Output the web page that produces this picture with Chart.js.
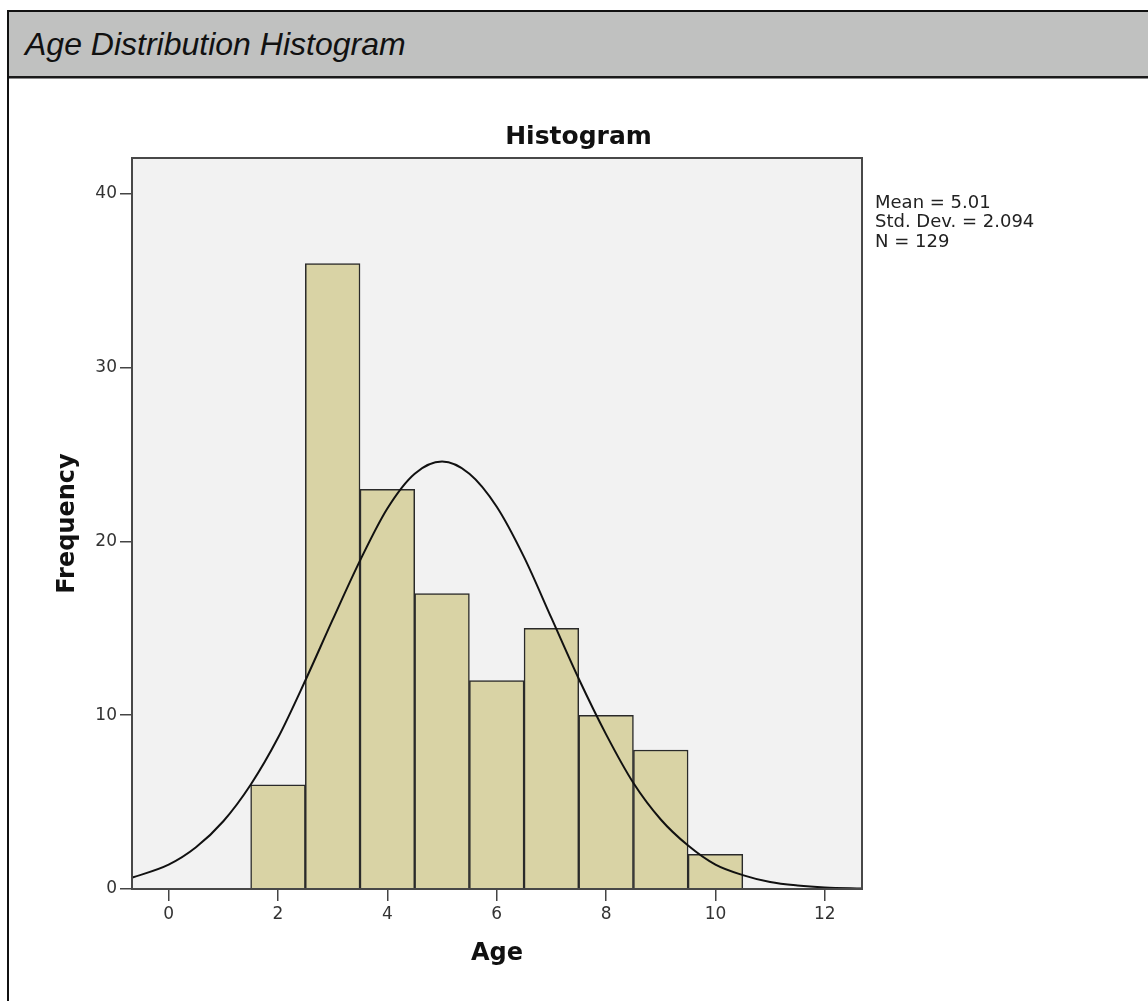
<!DOCTYPE html>
<html>
<head>
<meta charset="utf-8">
<script src="https://cdn.jsdelivr.net/npm/chart.js@4.4.1/dist/chart.umd.min.js"></script>
<style>
  body { margin: 0; background: #fff; overflow: hidden; }
  .frame {
    position: absolute; left: 7px; top: 10px; width: 1200px; height: 1100px;
    border-left: 2px solid #111; border-top: 2px solid #111;
  }
  .header {
    height: 64px; line-height: 64px; background: #c0c1c0;
    border-bottom: 2px solid #1a1a1a; box-shadow: 0 1px 0 #8a8a8a;
    font-family: "Liberation Sans", Arial, sans-serif; font-style: italic;
    font-size: 32px; color: #111; padding-left: 16px;
  }
  #chart { position: absolute; left: 9px; top: 79px; }
</style>
</head>
<body>
<div class="frame"><div class="header">Age Distribution Histogram</div></div>
<canvas id="chart" width="1139" height="922"></canvas>
<script>
// histogram bins (centre of each 1-year bin) and counts
const binCenters = [2, 3, 4, 5, 6, 7, 8, 9, 10];
const frequencies = [6, 36, 23, 17, 12, 15, 10, 8, 2];

// normal curve
const curveX = [-0.7, 0, 0.5, 1, 1.5, 2, 2.5, 3, 3.5, 4, 4.5, 5, 5.5, 6, 6.5, 7, 7.5, 8, 8.5, 9, 9.5, 10, 10.5, 11, 11.5, 12, 12.7];
const curveY = [0.62, 1.4, 2.4, 3.9, 6.0, 8.7, 12.0, 15.5, 18.9, 21.9, 23.9, 24.6, 23.9, 22.0, 19.1, 15.6, 12.1, 8.9, 6.1, 4.0, 2.5, 1.4, 0.8, 0.4, 0.2, 0.09, 0.03];

const xTicks = [0, 2, 4, 6, 8, 10, 12];
const yTicks = [0, 10, 20, 30, 40];
const statsLines = ["Mean = 5.01", "Std. Dev. = 2.094", "N = 129"];

const tickFont = { family: "DejaVu Sans", size: 17 };
const axisTitleFont = { family: "DejaVu Sans", size: 24, weight: "bold" };

const plotFrame = {
  id: "plotFrame",
  beforeDraw(chart) {
    const { ctx, chartArea: a } = chart;
    ctx.save();
    ctx.fillStyle = "#f2f2f2";
    ctx.fillRect(a.left, a.top, a.right - a.left, a.bottom - a.top);
    ctx.restore();
  },
  afterDraw(chart) {
    const { ctx, chartArea: a } = chart;
    ctx.save();
    ctx.strokeStyle = "#484848";
    ctx.lineWidth = 2;
    ctx.strokeRect(a.left, a.top, a.right - a.left, a.bottom - a.top);
    // summary stats to the right of the plot
    ctx.fillStyle = "#222";
    ctx.font = '18px "DejaVu Sans"';
    ctx.textBaseline = "middle";
    statsLines.forEach((line, i) => {
      ctx.fillText(line, a.right + 13, a.top + 45 + i * 19.5);
    });
    ctx.restore();
  },
};

new Chart(document.getElementById("chart"), {
  data: {
    datasets: [
      {
        type: "line",
        data: curveX.map((x, i) => ({ x, y: curveY[i] })),
        borderColor: "#111",
        borderWidth: 2,
        pointRadius: 0,
        cubicInterpolationMode: "monotone",
        fill: false,
        order: 0,
      },
      {
        type: "bar",
        data: binCenters.map((x, i) => ({ x, y: frequencies[i] })),
        backgroundColor: "#d9d3a5",
        borderColor: "#2a2a2a",
        borderWidth: 1.5,
        barPercentage: 1,
        categoryPercentage: 1,
        order: 1,
      },
    ],
  },
  options: {
    responsive: false,
    animation: false,
    layout: { padding: 0 },
    scales: {
      x: {
        type: "linear",
        min: -0.67,
        max: 12.68,
        offset: false,
        afterFit: (s) => { s.height = 112; },
        afterBuildTicks: (s) => { s.ticks = xTicks.map((v) => ({ value: v })); },
        ticks: { font: tickFont, color: "#333", padding: 3, maxRotation: 0 },
        grid: { offset: false, drawOnChartArea: false, drawTicks: true, tickLength: 12, color: "#444", lineWidth: 1.5 },
        border: { display: false },
        title: { display: true, text: "Age", font: axisTitleFont, color: "#111", padding: { top: 0, bottom: 32.6 } },
      },
      y: {
        type: "linear",
        min: 0,
        max: 42.07,
        afterFit: (s) => { s.width = 123; },
        afterBuildTicks: (s) => { s.ticks = yTicks.map((v) => ({ value: v })); },
        ticks: { font: tickFont, color: "#333", padding: 3 },
        grid: { drawOnChartArea: false, drawTicks: true, tickLength: 12, color: "#444", lineWidth: 1.5 },
        border: { display: false },
        title: { display: true, text: "Frequency", font: axisTitleFont, color: "#111", padding: { top: 44.6, bottom: 0 } },
      },
      yRight: {
        type: "linear",
        position: "right",
        display: true,
        afterFit: (s) => { s.width = 286; },
        ticks: { display: false },
        grid: { display: false },
        border: { display: false },
      },
    },
    plugins: {
      legend: { display: false },
      tooltip: { enabled: false },
      title: {
        display: true,
        text: "Histogram",
        color: "#111",
        font: { family: "DejaVu Sans", size: 25, weight: "bold" },
        padding: { top: 43, bottom: 6 },
      },
    },
  },
  plugins: [plotFrame],
});
</script>
</body>
</html>
